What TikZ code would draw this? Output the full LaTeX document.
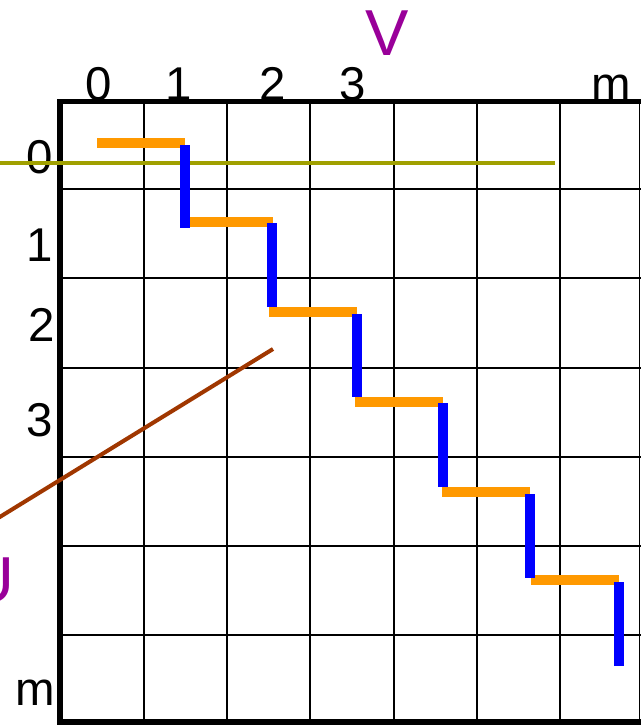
\documentclass[tikz,border=0pt]{standalone}
\usepackage{fontspec}
\setmainfont{Liberation Sans}
\usepackage{tikz}
\usetikzlibrary{positioning}
\definecolor{steporange}{RGB}{255,153,0}
\definecolor{stepblue}{RGB}{0,0,255}
\definecolor{bandolive}{RGB}{160,160,0}
\definecolor{diagbrown}{RGB}{160,55,0}
\definecolor{axispurple}{RGB}{153,0,153}

\begin{document}
\begin{tikzpicture}[x=0.02cm, y=-0.02cm,
    idx/.style={font=\fontsize{27}{27}\selectfont, inner sep=0pt},
    axisname/.style={font=\fontsize{37}{37}\selectfont, text=axispurple, inner sep=0pt},
    gridline/.style={line width=1.1pt},
    hseg/.style={draw=steporange, line width=5.8pt},
    vseg/.style={draw=stepblue, line width=5.8pt}]
                \useasboundingbox (0,0) rectangle (641,725);

                % Column indices
                \node[idx, anchor=base] (c0) at (99,100) {0};
                \node[idx, anchor=base] (c1) at (179,100) {1};
                \node[idx, anchor=base] (c2) at (273,100) {2};
                \node[idx, anchor=base] (c3) at (353,100) {3};
                \node[idx, anchor=base] (cm) at (611,100) {m};
                \node[axisname, anchor=base] (v) at (387,55) {V};

                % Row indices
                \node[idx] (r0) at (40,157) {0};
                \node[idx] (r1) at (40,245) {1};
                \node[idx] (r2) at (41.5,325) {2};
                \node[idx] (r3) at (39.5,420) {3};
                \node[idx, anchor=base] (rm) at (35,705) {m};
                \node[axisname, anchor=base east] (u) at (15,602) {U};

                % Grid
                \draw[gridline] (144,101) -- (144,722);
                \draw[gridline] (227,101) -- (227,722);
                \draw[gridline] (310,101) -- (310,722);
                \draw[gridline] (394,101) -- (394,722);
                \draw[gridline] (477,101) -- (477,722);
                \draw[gridline] (560,101) -- (560,722);
                \draw[gridline] (639.5,101) -- (639.5,722);
                \draw[gridline] (59,189) -- (641,189);
                \draw[gridline] (59,278) -- (641,278);
                \draw[gridline] (59,368) -- (641,368);
                \draw[gridline] (59,457) -- (641,457);
                \draw[gridline] (59,546) -- (641,546);
                \draw[gridline] (59,635) -- (641,635);

                % Frame
                \draw[line width=2.9pt] (641,101.5) -- (60,101.5) -- (60,722) -- (641,722);

                % Lines across the grid
                \draw[bandolive, line width=2.3pt] (-10,163) -- (555,163);
                \draw[diagbrown, line width=2.3pt] (273,349) -- (-10,523);

                % Steps
                \draw[hseg] (97,143) -- (185,143);
                \draw[hseg] (190,222) -- (273,222);
                \draw[hseg] (269,312) -- (357,312);
                \draw[hseg] (355,402) -- (443,402);
                \draw[hseg] (442,492) -- (530,492);
                \draw[hseg] (531,580) -- (619,580);
                \draw[vseg] (185,145) -- (185,228);
                \draw[vseg] (272,223) -- (272,307);
                \draw[vseg] (357,314) -- (357,397);
                \draw[vseg] (443,403) -- (443,487);
                \draw[vseg] (530,494) -- (530,578);
                \draw[vseg] (619,582) -- (619,666);
            \end{tikzpicture}
\end{document}
